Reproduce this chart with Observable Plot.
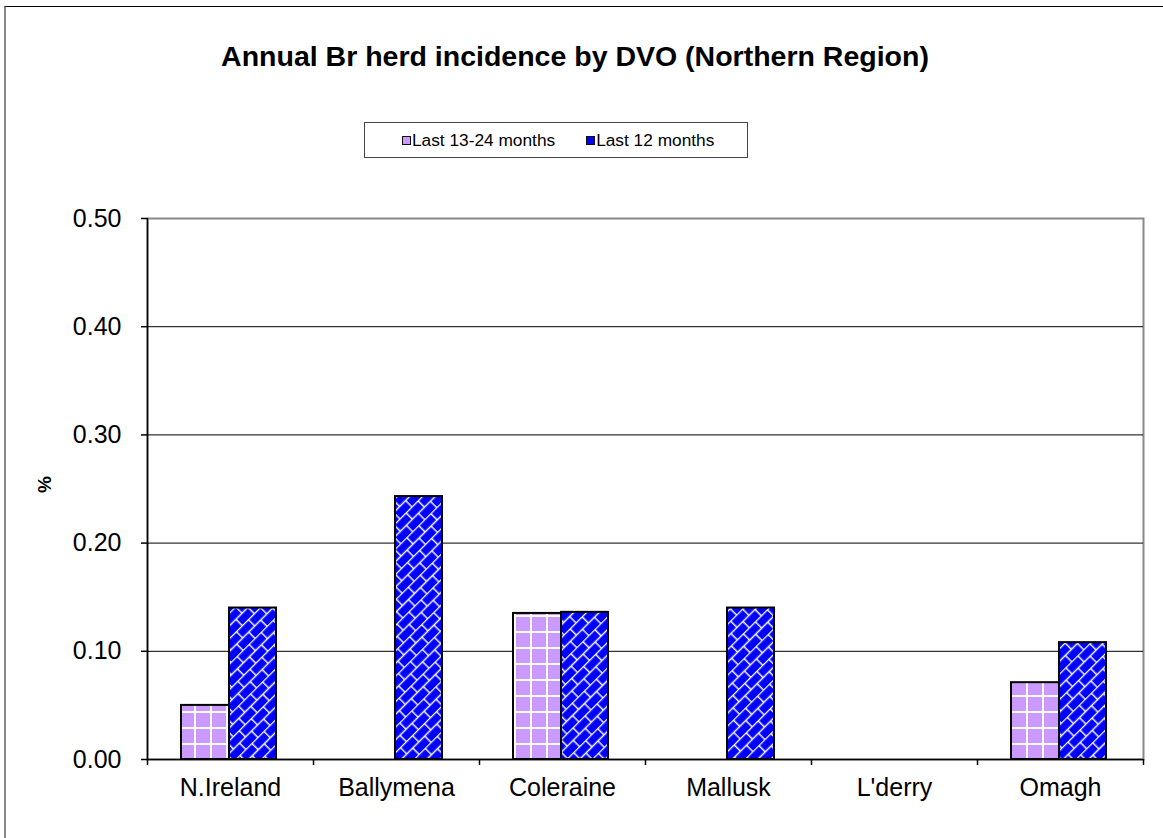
<!DOCTYPE html>
<html>
<head>
<meta charset="utf-8">
<script src="https://cdn.jsdelivr.net/npm/d3@7"></script>
<script src="https://cdn.jsdelivr.net/npm/@observablehq/plot@0.6"></script>
<style>
  html, body { margin: 0; padding: 0; background: #fff; }
  body { width: 1163px; height: 838px; position: relative; overflow: hidden;
         font-family: Arial, "Liberation Sans", sans-serif; }
  #chartArea { position: absolute; left: 4px; top: 6px; width: 1300px; height: 1000px;
               border-top: 1px solid #000; border-left: 2px solid #888; box-sizing: border-box; }
  #title { position: absolute; left: 0; width: 1150px; top: 39px; text-align: center;
           font-weight: bold; font-size: 28.5px; line-height: 34px; color: #000; }
  #legend { position: absolute; left: 364px; top: 122px; width: 384px; height: 36px;
            border: 1px solid #444; box-sizing: border-box; display: flex; align-items: center;
            justify-content: flex-start; padding-left: 37px; gap: 31px; font-size: 17.3px; color: #000; }
  #legend .item { display: flex; align-items: center; }
  #legend .sw { width: 7px; height: 7px; border: 1.5px solid #111; margin-right: 1px; }
  #plot { position: absolute; left: 0; top: 180px; }
</style>
</head>
<body>
<div id="chartArea"></div>
<div id="title">Annual Br herd incidence by DVO (Northern Region)</div>
<div id="legend"></div>
<div id="plot"></div>
<script>
// District Veterinary Offices and the two comparison periods
const categories = ["N.Ireland", "Ballymena", "Coleraine", "Mallusk", "L'derry", "Omagh"];
const seriesNames = ["Last 13-24 months", "Last 12 months"];
// Herd incidence (%) per DVO; null = no reactor herds in the period
const previousYear = [0.050, null, 0.135, null, null, 0.071];
const lastYear = [0.140, 0.243, 0.136, 0.140, null, 0.108];
const yTicks = [0, 0.1, 0.2, 0.3, 0.4, 0.5];
const seriesColors = ["#CC99FF", "#0000FF"];

const rows = [];
categories.forEach((dvo, i) => {
  if (previousYear[i] != null) rows.push({dvo, series: seriesNames[0], value: previousYear[i]});
  if (lastYear[i] != null) rows.push({dvo, series: seriesNames[1], value: lastYear[i]});
});

// legend
const legend = document.getElementById("legend");
seriesNames.forEach((name, i) => {
  const item = document.createElement("div");
  item.className = "item";
  const sw = document.createElement("span");
  sw.className = "sw";
  sw.style.background = seriesColors[i];
  item.appendChild(sw);
  item.appendChild(document.createTextNode(name));
  legend.appendChild(item);
});

const width = 1163, height = 658;
const marginLeft = 147, marginRight = 20, marginTop = 38, marginBottom = 79;
const step = (width - marginLeft - marginRight) / categories.length;

const chart = Plot.plot({
  width, height, marginLeft, marginRight, marginTop, marginBottom,
  style: {background: "transparent", fontFamily: "Arial, 'Liberation Sans', sans-serif", overflow: "visible"},
  x: {domain: categories, padding: 0, axis: null},
  y: {domain: [0, 0.5], axis: null},
  marks: [
    Plot.frame({stroke: "#888", strokeWidth: 2}),
    Plot.ruleY(yTicks.slice(1, -1), {stroke: "#000", strokeWidth: 1}),
    Plot.barY(rows.filter(d => d.series === seriesNames[0]), {
      x: "dvo", y: "value", fill: "url(#gridPurple)", stroke: "#000", strokeWidth: 2,
      insetLeft: 34, insetRight: step - 82
    }),
    Plot.barY(rows.filter(d => d.series === seriesNames[1]), {
      x: "dvo", y: "value", fill: "url(#brickBlue)", stroke: "#000", strokeWidth: 2,
      insetLeft: 82, insetRight: step - 129
    }),
    Plot.ruleY([0], {stroke: "#000", strokeWidth: 1.5}),
    Plot.ruleX([categories[0]], {dx: -step / 2, stroke: "#000", strokeWidth: 1.5}),
    Plot.axisY({ticks: yTicks, tickFormat: d3.format(".2f"), tickSize: 6, tickPadding: 20,
                fontSize: 25, label: null, stroke: "#000", strokeWidth: 1.5}),
    Plot.axisX({ticks: categories, tickSize: 6, dx: -step / 2, text: null, label: null, strokeWidth: 1.5}),
    Plot.axisX({ticks: categories.slice(-1), tickSize: 6, dx: step / 2, text: null, label: null, strokeWidth: 1.5}),
    Plot.axisX({ticks: categories, tickSize: 0, tickPadding: 19, fontSize: 25, label: null}),
    Plot.text(["%"], {frameAnchor: "left", dx: -103, dy: 4, rotate: -90, fontWeight: "bold", fontSize: 19, fill: "#000"})
  ]
});

// fill patterns for the two series
const defs = d3.select(chart).insert("defs", ":first-child");
const grid = defs.append("pattern").attr("id", "gridPurple")
  .attr("patternUnits", "userSpaceOnUse").attr("width", 16).attr("height", 16)
  .attr("x", 2).attr("y", 3);
grid.append("rect").attr("width", 16).attr("height", 16).attr("fill", seriesColors[0]);
grid.append("rect").attr("x", 0).attr("y", 0).attr("width", 16).attr("height", 2).attr("fill", "#fff");
grid.append("rect").attr("x", 0).attr("y", 0).attr("width", 2).attr("height", 16).attr("fill", "#fff");

const brick = defs.append("pattern").attr("id", "brickBlue")
  .attr("patternUnits", "userSpaceOnUse").attr("width", 17).attr("height", 18)
  .attr("patternTransform", "rotate(-45)");
brick.append("rect").attr("width", 17).attr("height", 18).attr("fill", seriesColors[1]);
brick.append("path")
  .attr("d", "M0,0.5H17M0,9.5H17M0.7,0V9.5M9.2,9.5V18")
  .attr("stroke", "#fff").attr("stroke-width", 1.4).attr("fill", "none");

document.getElementById("plot").appendChild(chart);
</script>
</body>
</html>
